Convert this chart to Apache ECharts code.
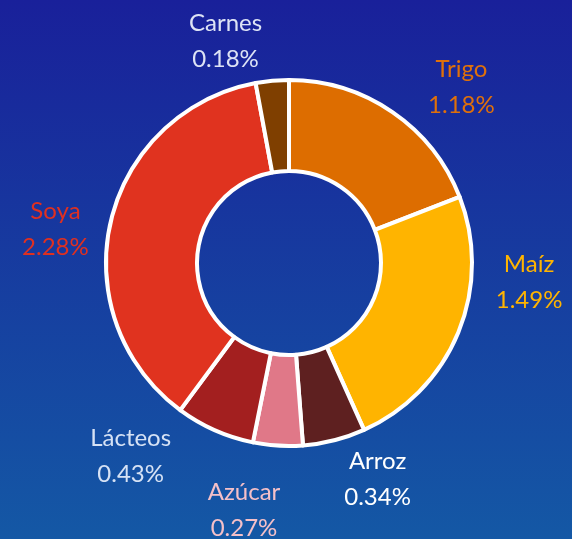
<!DOCTYPE html>
<html>
<head>
<meta charset="utf-8">
<script src="https://cdn.jsdelivr.net/npm/echarts@6/dist/echarts.min.js"></script>
<style>
  html, body { margin: 0; padding: 0; }
  #chart { width: 572px; height: 539px; }
</style>
</head>
<body>
<div id="chart"></div>
<script>
const categories = ['Trigo', 'Maíz', 'Arroz', 'Azúcar', 'Lácteos', 'Soya', 'Carnes'];
const values = [1.18, 1.49, 0.34, 0.27, 0.43, 2.28, 0.18];
const sliceColors = ['#dd6d00', '#ffb400', '#5e2020', '#e07888', '#a31f1f', '#e0331f', '#7f3f00'];
const labelColors = ['#e0700a', '#ffb400', '#ffffff', '#f5c0c8', '#d6e2f5', '#e03020', '#dde3f5'];
// label nudges [dx, dy] per slice
const labelOffsets = [[47, 0], [38, -62], [31, 10], [-27, 35], [-67, -1], [-21, 14], [-39, -10]];

const chart = echarts.init(document.getElementById('chart'));

const data = categories.map((name, i) => ({
    name: name,
    value: values[i],
    itemStyle: { color: sliceColors[i] },
    label: { color: labelColors[i] }
}));

chart.setOption({
    backgroundColor: {
        type: 'linear', x: 0, y: 0, x2: 0, y2: 1,
        colorStops: [
            { offset: 0, color: '#19209a' },
            { offset: 1, color: '#1458a5' }
        ]
    },
    animation: false,
    series: [{
        type: 'pie',
        center: [289, 263],
        radius: [92, 183],
        startAngle: 90,
        clockwise: true,
        avoidLabelOverlap: false,
        itemStyle: { borderColor: '#ffffff', borderWidth: 4 },
        label: {
            show: true,
            position: 'outside',
            formatter: p => p.name + '\n' + p.value.toFixed(2) + '%',
            fontFamily: 'Lato',
            fontSize: 24,
            lineHeight: 36,
            align: 'center'
        },
        labelLine: { show: false, length: 30, length2: 0 },
        labelLayout: p => ({
            align: 'center',
            dx: labelOffsets[p.dataIndex][0],
            dy: labelOffsets[p.dataIndex][1]
        }),
        data: data
    }]
});
</script>
</body>
</html>
